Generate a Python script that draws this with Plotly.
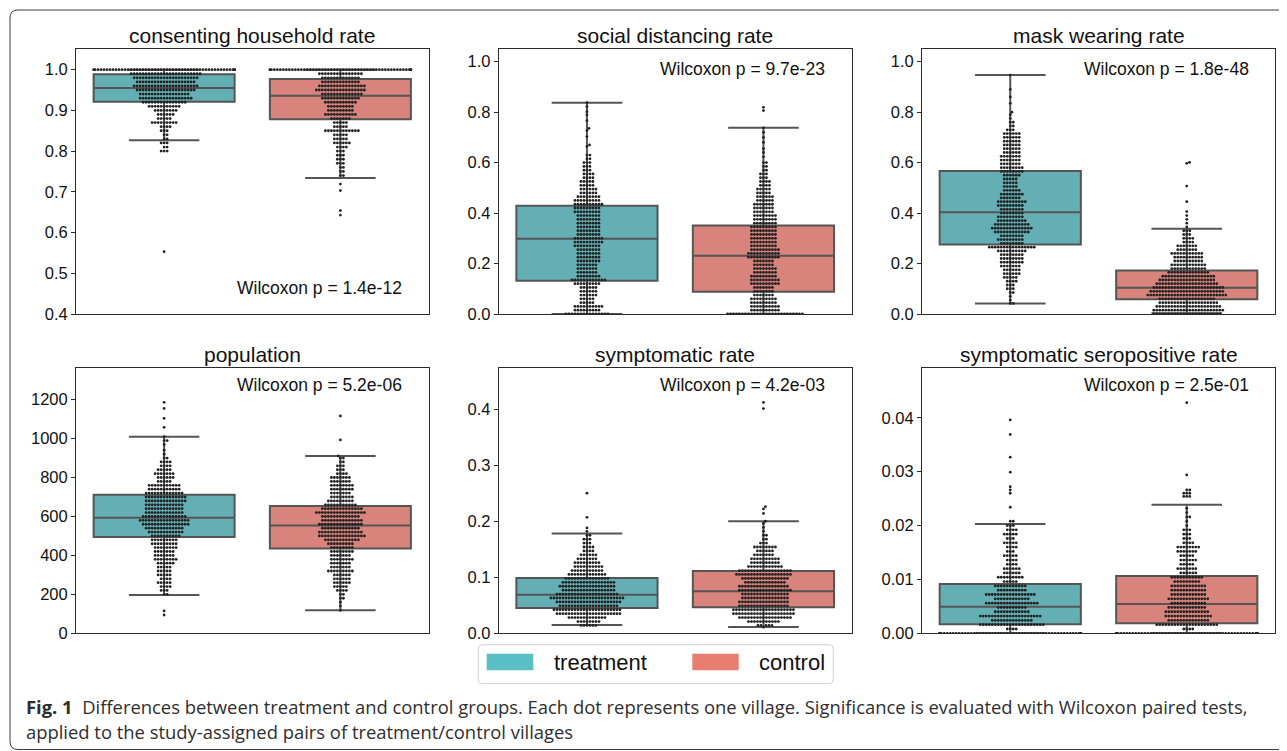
import math
import numpy as np
import plotly.graph_objects as go

# the page body has an 8 px margin; the figure is sized so the page fits the window
PAGE_OFF = 8.0
W, H = 1279, 743

# ---------------- data ----------------
group_names = ["treatment", "control"]
group_positions = [0, 1]
panel_titles = ["consenting household rate", "social distancing rate", "mask wearing rate",
                "population", "symptomatic rate", "symptomatic seropositive rate"]
wilcoxon_labels = ["Wilcoxon p = 1.4e-12", "Wilcoxon p = 9.7e-23", "Wilcoxon p = 1.8e-48",
                   "Wilcoxon p = 5.2e-06", "Wilcoxon p = 4.2e-03", "Wilcoxon p = 2.5e-01"]

# y ticks
consent_ticks = [0.4, 0.5, 0.6, 0.7, 0.8, 0.9, 1.0]
consent_ticklabels = ["0.4", "0.5", "0.6", "0.7", "0.8", "0.9", "1.0"]
rate_ticks = [0.0, 0.2, 0.4, 0.6, 0.8, 1.0]
rate_ticklabels = ["0.0", "0.2", "0.4", "0.6", "0.8", "1.0"]
pop_ticks = [0, 200, 400, 600, 800, 1000, 1200]
pop_ticklabels = ["0", "200", "400", "600", "800", "1000", "1200"]
symp_ticks = [0.0, 0.1, 0.2, 0.3, 0.4]
symp_ticklabels = ["0.0", "0.1", "0.2", "0.3", "0.4"]
sero_ticks = [0.00, 0.01, 0.02, 0.03, 0.04]
sero_ticklabels = ["0.00", "0.01", "0.02", "0.03", "0.04"]

# box statistics: [lower whisker, q1, median, q3, upper whisker]
consent_box_treat = [0.8265, 0.9214, 0.955, 0.9885, 1.0]
consent_box_ctrl = [0.734, 0.878, 0.936, 0.977, 1.0]
social_box_treat = [0.0, 0.132, 0.2986, 0.429, 0.8375]
social_box_ctrl = [0.0, 0.0885, 0.231, 0.351, 0.738]
mask_box_treat = [0.042, 0.275, 0.403, 0.567, 0.947]
mask_box_ctrl = [0.003, 0.058, 0.104, 0.172, 0.338]
pop_box_treat = [197, 495, 594, 712, 1010]
pop_box_ctrl = [118, 436, 553, 654, 911]
symp_box_treat = [0.0149, 0.045, 0.069, 0.0988, 0.178]
symp_box_ctrl = [0.0113, 0.0464, 0.075, 0.111, 0.200]
sero_box_treat = [0.0, 0.00167, 0.00495, 0.00915, 0.0203]
sero_box_ctrl = [0.0, 0.00185, 0.00544, 0.01063, 0.02386]

consent_treat_vals = [1.00, 0.99, 0.98, 0.97, 0.96, 0.95, 0.94, 0.93, 0.92, 0.91, 0.90, 0.89,
                      0.88, 0.87, 0.86, 0.85, 0.84, 0.83, 0.82, 0.81, 0.80, 0.553]
consent_treat_counts = [50, 24, 22, 20, 22, 20, 17, 18, 15, 11, 8, 6,
                        5, 9, 4, 3, 2, 2, 3, 2, 3, 1]
consent_ctrl_vals = [1.00, 0.99, 0.98, 0.97, 0.96, 0.95, 0.94, 0.93, 0.92, 0.91, 0.90, 0.89,
                     0.88, 0.87, 0.86, 0.85, 0.84, 0.83, 0.82, 0.81, 0.80, 0.79, 0.78, 0.77,
                     0.76, 0.75, 0.74, 0.719, 0.703, 0.654, 0.643]
consent_ctrl_counts = [50, 15, 13, 13, 16, 17, 14, 13, 11, 9, 9, 11,
                       7, 5, 5, 12, 5, 5, 6, 4, 3, 3, 3, 3,
                       2, 2, 2, 1, 1, 1, 1]

social_treat_vals = [0.0, 0.015, 0.03, 0.045, 0.06, 0.075, 0.09, 0.105, 0.12, 0.135,
                     0.15, 0.165, 0.18, 0.195, 0.21, 0.225, 0.24, 0.255, 0.27, 0.285,
                     0.30, 0.315, 0.33, 0.345, 0.36, 0.375, 0.39, 0.405, 0.42, 0.435,
                     0.45, 0.465, 0.48, 0.495, 0.51, 0.525, 0.54, 0.555, 0.57, 0.585,
                     0.60, 0.615, 0.63, 0.664, 0.670, 0.703, 0.727, 0.736, 0.766, 0.789,
                     0.802, 0.822, 0.838]
social_treat_counts = [15, 9, 10, 5, 5, 6, 6, 6, 9, 12,
                       8, 7, 7, 7, 8, 8, 8, 8, 9, 10,
                       10, 8, 8, 8, 8, 8, 8, 9, 9, 10,
                       9, 8, 6, 6, 5, 5, 4, 4, 3, 3,
                       3, 2, 2, 1, 1, 1, 1, 1, 1, 1,
                       1, 1, 1]
social_ctrl_vals = [0.0, 0.015, 0.03, 0.045, 0.06, 0.075, 0.09, 0.105, 0.12, 0.135,
                    0.15, 0.165, 0.18, 0.195, 0.21, 0.225, 0.24, 0.255, 0.27, 0.285,
                    0.30, 0.315, 0.33, 0.345, 0.36, 0.375, 0.39, 0.405, 0.42, 0.435,
                    0.45, 0.465, 0.48, 0.495, 0.51, 0.525, 0.54, 0.555, 0.57, 0.585,
                    0.60, 0.623, 0.64, 0.655, 0.68, 0.70, 0.72, 0.738, 0.806, 0.819]
social_ctrl_counts = [26, 10, 10, 9, 9, 7, 7, 7, 10, 10,
                      9, 8, 8, 7, 7, 11, 11, 10, 9, 9,
                      9, 9, 9, 9, 8, 8, 8, 7, 7, 7,
                      6, 6, 5, 5, 4, 4, 3, 3, 2, 2,
                      2, 1, 1, 1, 1, 1, 1, 1, 1, 1]

mask_treat_vals = [0.947, 0.89, 0.86, 0.835, 0.80, 0.79, 0.775, 0.76, 0.745,
                   0.73, 0.715, 0.70, 0.685, 0.67, 0.655, 0.64, 0.625, 0.61, 0.595,
                   0.58, 0.565, 0.55, 0.535, 0.52, 0.505, 0.49, 0.475, 0.46, 0.445,
                   0.43, 0.415, 0.40, 0.385, 0.37, 0.355, 0.34, 0.325, 0.31, 0.295,
                   0.28, 0.265, 0.25, 0.235, 0.22, 0.205, 0.19, 0.175, 0.16, 0.145,
                   0.13, 0.115, 0.10, 0.085, 0.07, 0.055, 0.042]
mask_treat_counts = [1, 1, 1, 1, 1, 1, 1, 2, 2,
                     3, 6, 6, 6, 6, 6, 6, 7, 7, 7,
                     8, 8, 6, 5, 5, 5, 6, 8, 7, 10,
                     9, 8, 8, 9, 10, 12, 14, 12, 8, 9,
                     8, 16, 10, 8, 8, 8, 7, 6, 6, 5,
                     4, 3, 3, 2, 1, 1, 2]
mask_ctrl_vals = [0.0, 0.015, 0.03, 0.045, 0.06, 0.075, 0.09, 0.105, 0.12, 0.135,
                  0.15, 0.165, 0.18, 0.195, 0.21, 0.225, 0.24, 0.255, 0.27, 0.285,
                  0.30, 0.315, 0.33, 0.345, 0.36, 0.375, 0.39, 0.406, 0.445, 0.507,
                  0.597, 0.601]
mask_ctrl_counts = [23, 24, 22, 20, 19, 27, 25, 24, 21, 19,
                    18, 14, 12, 12, 10, 10, 11, 7, 7, 4,
                    4, 3, 3, 1, 1, 1, 1, 1, 1, 1,
                    1, 1]

pop_treat_vals = [1186, 1155, 1104, 1058, 1010, 990, 970, 940, 920, 900,
                  880, 860, 840, 820, 800, 780,
                  760, 740, 720, 700, 680, 660, 640, 620, 600, 580, 560,
                  540, 520, 500, 480, 460, 440, 420, 400, 380, 360, 340, 320, 300, 280,
                  260, 240, 220, 200, 115, 94]
pop_treat_counts = [1, 1, 1, 1, 1, 2, 1, 1, 1, 2,
                    4, 4, 5, 7, 6, 5,
                    11, 11, 13, 14, 14, 13, 13, 13, 15, 17, 16,
                    13, 12, 10, 9, 9, 8, 7, 7, 8, 6, 5, 5, 5, 4,
                    5, 4, 3, 2, 1, 1]
pop_ctrl_vals = [1116, 993, 911,
                 900, 880, 860, 840, 820, 800, 780, 760, 740, 720,
                 700, 680, 660, 640, 620, 600, 580, 560, 540, 520,
                 500, 480, 460, 440, 420, 400, 380, 360, 340, 320,
                 300, 280, 260, 240, 220, 200, 180, 160, 140, 118]
pop_ctrl_counts = [1, 1, 1,
                   2, 2, 3, 3, 4, 7, 7, 8, 8, 7,
                   8, 9, 11, 14, 17, 13, 14, 15, 13, 15,
                   16, 12, 9, 8, 8, 7, 8, 7, 7, 9,
                   6, 6, 6, 5, 4, 2, 2, 1, 1, 1]

symp_treat_vals = [0.25, 0.207, 0.188, 0.182,
                   0.175, 0.168, 0.161, 0.154, 0.147, 0.140, 0.133, 0.126, 0.119, 0.112,
                   0.105, 0.098, 0.091, 0.084, 0.077, 0.070, 0.063, 0.056, 0.049, 0.042,
                   0.035, 0.028, 0.021, 0.014]
symp_treat_counts = [1, 1, 1, 1,
                     2, 3, 3, 4, 4, 6, 7, 9, 10, 11,
                     13, 15, 18, 19, 18, 21, 25, 22, 20, 23,
                     22, 13, 8, 6]
symp_ctrl_vals = [0.412, 0.401, 0.226, 0.222, 0.214, 0.200,
                  0.196, 0.189, 0.182, 0.175, 0.168, 0.161, 0.154, 0.147, 0.140, 0.133,
                  0.126, 0.119, 0.112, 0.105, 0.098, 0.091, 0.084, 0.077, 0.070, 0.063,
                  0.056, 0.049, 0.042, 0.035, 0.028, 0.021, 0.014, 0.011]
symp_ctrl_counts = [1, 1, 1, 1, 1, 1,
                    1, 1, 1, 2, 2, 3, 8, 6, 7, 10,
                    10, 12, 18, 19, 16, 14, 17, 18, 16, 16,
                    17, 17, 21, 21, 18, 11, 5, 1]

sero_treat_vals = [0.0, 0.0008, 0.0016, 0.0024, 0.0032, 0.0040, 0.0048, 0.0056, 0.0064, 0.0072,
                   0.0080, 0.0088, 0.0096, 0.0104, 0.0112, 0.0120, 0.0128, 0.0136, 0.0144, 0.0152,
                   0.0160, 0.0168, 0.0176, 0.0184, 0.0192, 0.0200, 0.0208,
                   0.0234, 0.0260, 0.0266, 0.0272, 0.0299, 0.0327, 0.0369, 0.0396]
sero_treat_counts = [52, 4, 22, 14, 21, 12, 10, 18, 12, 17,
                     10, 11, 5, 9, 6, 6, 4, 4, 5, 3,
                     4, 5, 3, 5, 4, 3, 2,
                     1, 1, 1, 1, 1, 1, 1, 1]
sero_ctrl_vals = [0.0, 0.0008, 0.0016, 0.0024, 0.0032, 0.0040, 0.0048, 0.0056, 0.0064, 0.0072,
                  0.0080, 0.0088, 0.0096, 0.0104, 0.0112, 0.0120, 0.0128, 0.0136, 0.0144, 0.0152,
                  0.0160, 0.0168, 0.0176, 0.0184, 0.0192, 0.0200, 0.0208, 0.0216, 0.0224, 0.0232,
                  0.0254, 0.0260, 0.0266, 0.0294, 0.0428]
sero_ctrl_counts = [52, 4, 21, 14, 16, 15, 13, 12, 14, 12,
                    12, 12, 9, 11, 6, 7, 5, 6, 5, 7,
                    8, 4, 3, 3, 3, 1, 1, 2, 1, 1,
                    3, 3, 2, 1, 1]

# ---------------- styling / layout ----------------
BOX_FILL = ["#63AFB4", "#D8837B"]
LEGEND_FILL = ["#5ABFC4", "#E87D72"]
EDGE = "#555555"
DOT = "#222222"
FONT = "Liberation Sans, Arial, Helvetica, sans-serif"

# plot-area positions in page pixels
COLS = [(76.0, 428.5), (498.7, 851.7), (922.0, 1275.0)]
ROWS = [(49.3, 314.0), (367.7, 633.3)]

panels = [
    dict(box=[consent_box_treat, consent_box_ctrl],
         pts=[(consent_treat_vals, consent_treat_counts), (consent_ctrl_vals, consent_ctrl_counts)],
         ticks=consent_ticks, labels=consent_ticklabels, yr=[0.4, 1.05], wy=288.0),
    dict(box=[social_box_treat, social_box_ctrl],
         pts=[(social_treat_vals, social_treat_counts), (social_ctrl_vals, social_ctrl_counts)],
         ticks=rate_ticks, labels=rate_ticklabels, yr=[0.0, 1.049], wy=68.7),
    dict(box=[mask_box_treat, mask_box_ctrl],
         pts=[(mask_treat_vals, mask_treat_counts), (mask_ctrl_vals, mask_ctrl_counts)],
         ticks=rate_ticks, labels=rate_ticklabels, yr=[0.0, 1.049], wy=68.7),
    dict(box=[pop_box_treat, pop_box_ctrl],
         pts=[(pop_treat_vals, pop_treat_counts), (pop_ctrl_vals, pop_ctrl_counts)],
         ticks=pop_ticks, labels=pop_ticklabels, yr=[0, 1364], wy=384.8),
    dict(box=[symp_box_treat, symp_box_ctrl],
         pts=[(symp_treat_vals, symp_treat_counts), (symp_ctrl_vals, symp_ctrl_counts)],
         ticks=symp_ticks, labels=symp_ticklabels, yr=[0.0, 0.474], wy=384.8),
    dict(box=[sero_box_treat, sero_box_ctrl],
         pts=[(sero_treat_vals, sero_treat_counts), (sero_ctrl_vals, sero_ctrl_counts)],
         ticks=sero_ticks, labels=sero_ticklabels, yr=[0.0, 0.0493], wy=384.8),
]


def px(x):
    return (x - PAGE_OFF) / W


def py(y):
    return 1 - (y - PAGE_OFF) / H


def swarm(values, ypx_per_unit, d, half_width_px):
    vals = np.asarray(values, dtype=float)
    order = np.argsort(vals, kind="stable")
    ys = vals[order] * ypx_per_unit
    xs = np.zeros(len(ys))
    placed_x, placed_y = [], []
    for i, y in enumerate(ys):
        nb = [(a, b) for a, b in zip(placed_x, placed_y) if abs(b - y) < d]
        cand = [0.0]
        for a, b in nb:
            dx = math.sqrt(max(d * d - (b - y) ** 2, 0.0))
            cand.append(a + dx)
            cand.append(a - dx)
        cand.sort(key=lambda c: (round(abs(c), 6), c < 0))
        chosen = cand[-1]
        for c in cand:
            if all((c - a) ** 2 + (y - b) ** 2 >= d * d - 1e-6 for a, b in nb):
                chosen = c
                break
        xs[i] = chosen
        placed_x.append(chosen)
        placed_y.append(y)
    xs = np.clip(xs, -half_width_px, half_width_px)
    out = np.zeros(len(xs))
    out[order] = xs
    return vals, out


fig = go.Figure()
layout_axes = {}
annotations = []
shapes = []

DOT_SPACING = 3.0
for i, p in enumerate(panels):
    r, c = divmod(i, 3)
    x0, x1 = COLS[c]
    t, b = ROWS[r]
    k = i + 1
    xa = "x" if k == 1 else f"x{k}"
    ya = "y" if k == 1 else f"y{k}"
    plot_w = x1 - x0
    plot_h = b - t
    ypx = plot_h / (p["yr"][1] - p["yr"][0])
    xpx = plot_w / 2.0

    for g in range(2):
        s = p["box"][g]
        fig.add_trace(go.Box(
            x=[group_positions[g]], lowerfence=[s[0]], q1=[s[1]], median=[s[2]], q3=[s[3]],
            upperfence=[s[4]], width=0.8, whiskerwidth=0.5, fillcolor=BOX_FILL[g],
            line=dict(color=EDGE, width=2), boxpoints=False, showlegend=False,
            hoverinfo="skip", name=group_names[g], xaxis=xa, yaxis=ya))
    for g in range(2):
        vals, counts = p["pts"][g]
        yv = np.repeat(np.asarray(vals, dtype=float), counts)
        yv, off = swarm(yv, ypx, DOT_SPACING, 0.4 * xpx)
        fig.add_trace(go.Scatter(
            x=group_positions[g] + off / xpx, y=yv, mode="markers",
            marker=dict(size=2.8, color=DOT, line=dict(width=0)),
            showlegend=False, hoverinfo="skip", xaxis=xa, yaxis=ya))

    xname = "xaxis" if k == 1 else f"xaxis{k}"
    yname = "yaxis" if k == 1 else f"yaxis{k}"
    layout_axes[xname] = dict(domain=[px(x0), px(x1)], anchor=ya, range=[-0.5, 1.5],
                              showticklabels=False, ticks="", showgrid=False, zeroline=False,
                              showline=True, mirror=True, linecolor="#2a2a2a", linewidth=1,
                              automargin=False)
    layout_axes[yname] = dict(domain=[py(b), py(t)], anchor=xa, range=p["yr"],
                              tickmode="array", tickvals=p["ticks"], ticktext=p["labels"],
                              ticks="outside", ticklen=4, tickwidth=1, tickcolor="#2a2a2a",
                              tickfont=dict(family=FONT, size=16.5, color="#111111"),
                              showgrid=False, zeroline=False, showline=True, mirror=True,
                              linecolor="#2a2a2a", linewidth=1, automargin=False)

    title_y = 35.3 if r == 0 else 354.0
    annotations.append(dict(text=panel_titles[i], x=px((x0 + x1) / 2), y=py(title_y),
                            xref="paper", yref="paper", xanchor="center", yanchor="middle",
                            showarrow=False, font=dict(family=FONT, size=21, color="#111111")))
    annotations.append(dict(text=wilcoxon_labels[i], x=px(x0 + 0.452 * plot_w), y=py(p["wy"]),
                            xref="paper", yref="paper", xanchor="left", yanchor="middle",
                            showarrow=False, font=dict(family=FONT, size=17.5, color="#111111")))


def rounded_path(x0, y0, x1, y1, rr):
    return (f"M {px(x0 + rr)},{py(y0)} L {px(x1 - rr)},{py(y0)} "
            f"Q {px(x1)},{py(y0)} {px(x1)},{py(y0 + rr)} L {px(x1)},{py(y1 - rr)} "
            f"Q {px(x1)},{py(y1)} {px(x1 - rr)},{py(y1)} L {px(x0 + rr)},{py(y1)} "
            f"Q {px(x0)},{py(y1)} {px(x0)},{py(y1 - rr)} L {px(x0)},{py(y0 + rr)} "
            f"Q {px(x0)},{py(y0)} {px(x0 + rr)},{py(y0)} Z")


# outer figure frame (open on the right)
fr = 8
frame_path = (f"M {px(1290)},{py(10)} L {px(10 + fr)},{py(10)} Q {px(10)},{py(10)} {px(10)},{py(10 + fr)} "
              f"L {px(10)},{py(749.5 - fr)} Q {px(10)},{py(749.5)} {px(10 + fr)},{py(749.5)} "
              f"L {px(1290)},{py(749.5)}")
shapes.append(dict(type="path", path=frame_path, xref="paper", yref="paper",
                   line=dict(color="#3a3a3a", width=1)))

# legend
shapes.append(dict(type="path", path=rounded_path(478.3, 644.7, 833.3, 683.7, 4), xref="paper",
                   yref="paper", line=dict(color="#d0d0d0", width=1), fillcolor="white"))
legend_patch_x = [(486.7, 533.3), (692.3, 738.7)]
legend_text_x = [551.7, 756.7]
for g in range(2):
    lx0, lx1 = legend_patch_x[g]
    shapes.append(dict(type="rect", xref="paper", yref="paper", x0=px(lx0), x1=px(lx1),
                       y0=py(670.3), y1=py(653.7), fillcolor=LEGEND_FILL[g], line=dict(width=0)))
    annotations.append(dict(text=group_names[g], x=px(legend_text_x[g]), y=py(662.5),
                            xref="paper", yref="paper", xanchor="left", yanchor="middle",
                            showarrow=False, font=dict(family=FONT, size=22, color="#111111")))

# caption
CAP_FONT = "Open Sans, Noto Sans, sans-serif"
annotations.append(dict(
    text="<b>Fig. 1</b>\u00a0\u00a0Differences between treatment and control groups. Each dot represents one village. "
         "Significance is evaluated with Wilcoxon paired tests,",
    x=px(24), y=py(706), xref="paper", yref="paper", xanchor="left", yanchor="middle",
    showarrow=False, font=dict(family=CAP_FONT, size=18.4, color="#2e2e2e")))
annotations.append(dict(
    text="applied to the study-assigned pairs of treatment/control villages",
    x=px(24), y=py(731), xref="paper", yref="paper", xanchor="left", yanchor="middle",
    showarrow=False, font=dict(family=CAP_FONT, size=18.4, color="#2e2e2e")))

fig.update_layout(width=W, height=H, margin=dict(l=0, r=0, t=0, b=0, pad=0, autoexpand=False),
                  paper_bgcolor="white", plot_bgcolor="white", showlegend=False,
                  annotations=annotations, shapes=shapes, **layout_axes)

fig.write_html("out.html")
